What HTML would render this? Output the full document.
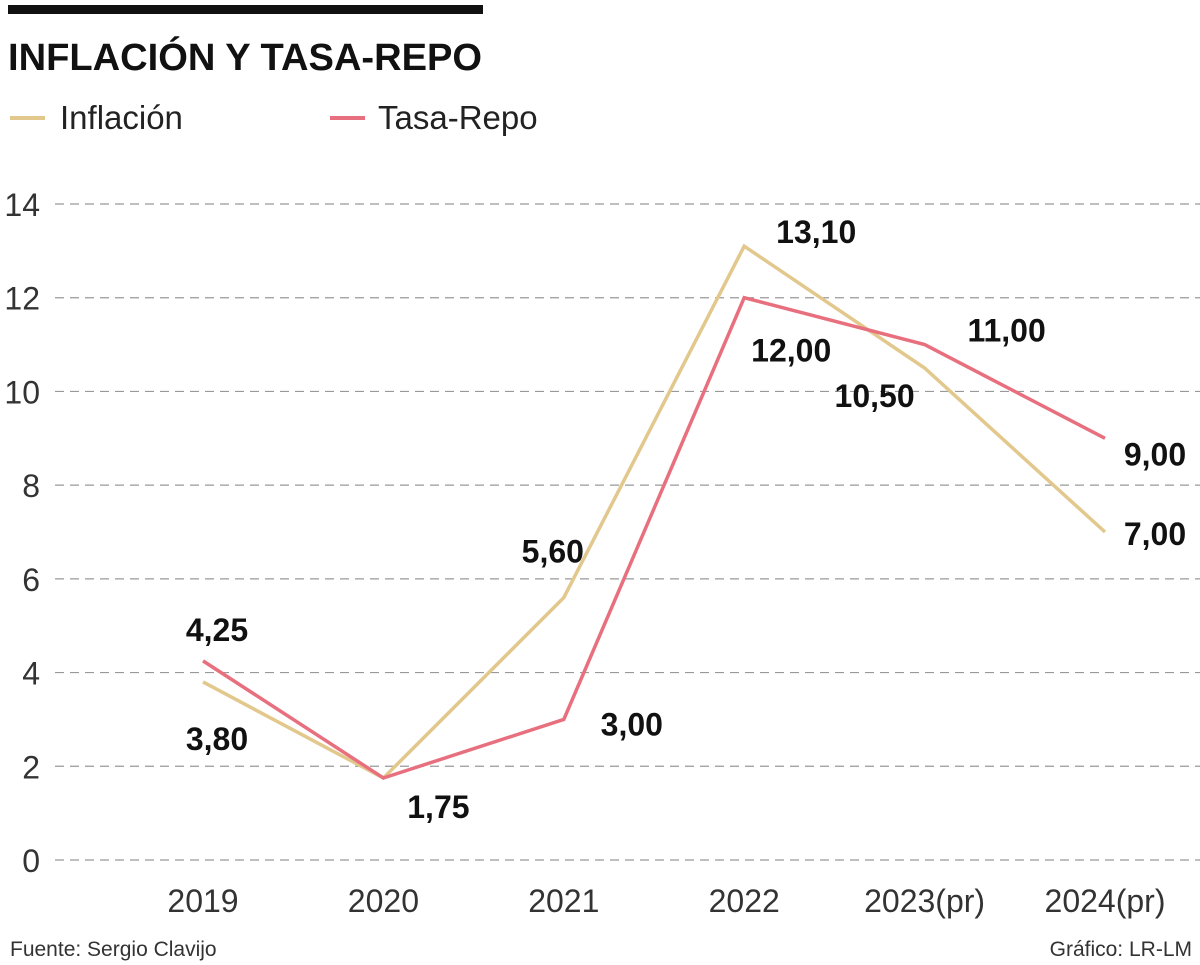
<!DOCTYPE html>
<html><head><meta charset="utf-8">
<style>
html,body{margin:0;padding:0;background:#fff;}
body{width:1200px;height:965px;position:relative;overflow:hidden;font-family:"Liberation Sans",sans-serif;}
svg{position:absolute;left:0;top:0;}
</style></head>
<body>
<svg id="chart" width="1200" height="965">
  <rect x="8" y="5" width="475" height="9" fill="#111"/>
  <text x="8" y="70" font-size="38" font-weight="bold" fill="#111" textLength="474" lengthAdjust="spacingAndGlyphs">INFLACIÓN Y TASA-REPO</text>
  <g>
    <line x1="10" y1="118" x2="45" y2="118" stroke="#e2c88c" stroke-width="4"/>
    <text x="60" y="129" font-size="33" fill="#222">Inflación</text>
  </g>
  <g>
    <line x1="330" y1="118" x2="365" y2="118" stroke="#e8707e" stroke-width="4"/>
    <text x="378" y="129" font-size="33" fill="#222">Tasa-Repo</text>
  </g>
  <g id="grid"></g>
  <g id="series"></g>
  <text x="10" y="956" font-size="21" fill="#333">Fuente: Sergio Clavijo</text>
  <text x="1192" y="956" font-size="21" fill="#333" text-anchor="end">Gráfico: LR-LM</text>
</svg>
<script>
const categories = ["2019","2020","2021","2022","2023(pr)","2024(pr)"];
const inflacion = [3.80, 1.75, 5.60, 13.10, 10.50, 7.00];
const tasaRepo = [4.25, 1.75, 3.00, 12.00, 11.00, 9.00];
const yTicks = [0,2,4,6,8,10,12,14];
const inflLabels = ["3,80","","5,60","13,10","10,50","7,00"];
const repoLabels = ["4,25","1,75","3,00","12,00","11,00","9,00"];
const inflOff = [[14,68],[0,0],[-11,-35],[72,-3],[-50,39],[50,13]];
const repoOff = [[14,-20],[55,40],[68,16],[47,64],[82,-3],[50,27]];

const NS="http://www.w3.org/2000/svg";
function y(v){return 860 - v*(656/14);}
function x(i){return 203 + i*180.4;}
function mk(tag,attrs,parent){const e=document.createElementNS(NS,tag);for(const k in attrs)e.setAttribute(k,attrs[k]);parent.appendChild(e);return e;}
const grid=document.getElementById('grid'), ser=document.getElementById('series');
yTicks.forEach(t=>{
  const l=mk('line',{x1:55,x2:1200,y1:y(t),y2:y(t),stroke:'#999','stroke-width':1.2,'stroke-dasharray':'9,6'},grid);
  
  
  const tx=mk('text',{x:40,y:y(t)+12,'font-size':32,fill:'#333','text-anchor':'end'},grid);
  tx.textContent=t;
  
  
});
categories.forEach((c,i)=>{
  const tx=mk('text',{x:x(i),y:912,'font-size':32,fill:'#333','text-anchor':'middle'},grid);
  tx.textContent=c;
  
  
});
function series(vals,color,name,labels,offs){
  const p=mk('polyline',{points:vals.map((v,i)=>x(i)+','+y(v)).join(' '),fill:'none',stroke:color,'stroke-width':3.5,'stroke-linejoin':'miter'},ser);
  
  
  vals.forEach((v,i)=>{
    if(!labels[i])return;
    const t=mk('text',{x:x(i)+offs[i][0],y:y(v)+offs[i][1],'font-size':32,'font-weight':'bold',fill:'#111','text-anchor':'middle'},ser);
    t.textContent=labels[i];
    
    
  });
}
series(inflacion,'#e2c88c','inflacion',inflLabels,inflOff);
series(tasaRepo,'#e8707e','tasa-repo',repoLabels,repoOff);
</script>
</body></html>
